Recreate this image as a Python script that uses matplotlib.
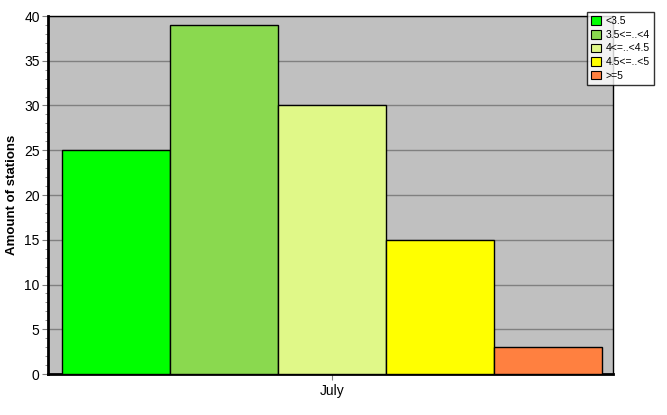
import matplotlib.pyplot as plt
from matplotlib.patches import Patch
from matplotlib.ticker import MultipleLocator

categories = ['<3.5', '3.5<=..<4', '4<=..<4.5', '4.5<=..<5', '>=5']
values = [25, 39, 30, 15, 3]
colors = ['#00FF00', '#8AD94F', '#E0F888', '#FFFF00', '#FF8040']
month = 'July'

plt.rcParams['font.family'] = ['Liberation Sans', 'DejaVu Sans']

fig = plt.figure(figsize=(6.67, 4.15), dpi=100)
ax = fig.add_axes([48 / 667, 41 / 415, 565 / 667, 358 / 415])
ax.set_facecolor('#C0C0C0')

x = range(len(values))
ax.bar(x, values, width=1.0, color=colors, edgecolor='black', linewidth=1, zorder=3)

ax.set_xlim(-0.63, 4.6)
ax.set_ylim(0, 40)
ax.yaxis.set_major_locator(MultipleLocator(5))
ax.yaxis.set_minor_locator(MultipleLocator(1))
ax.set_xticks([2])
ax.set_xticklabels([month])
ax.grid(axis='y', which='major', color='#808080', linewidth=1, zorder=1)

ax.tick_params(axis='y', which='major', length=4, color='#808080', labelsize=10, pad=2)
ax.tick_params(axis='y', which='minor', length=2, color='#808080')
ax.tick_params(axis='x', length=4, color='#808080', labelsize=10, pad=3)

for side in ['left', 'bottom']:
    ax.spines[side].set_linewidth(2)
for side in ['top', 'right']:
    ax.spines[side].set_linewidth(1)

ax.set_ylabel('Amount of stations', fontsize=9.5, fontweight='bold', labelpad=4)

handles = [Patch(facecolor=c, edgecolor='black', linewidth=0.8) for c in colors]
leg = fig.legend(handles, categories, loc='upper left', bbox_to_anchor=(587 / 667, 1 - 12 / 415),
                 fontsize=7.5, frameon=True, fancybox=False, handlelength=0.9, handleheight=0.9,
                 handletextpad=0.5, borderpad=0.4, labelspacing=0.35, borderaxespad=0)
leg.get_frame().set_edgecolor('black')
leg.get_frame().set_linewidth(1)

fig.savefig('out.png', dpi=100)
